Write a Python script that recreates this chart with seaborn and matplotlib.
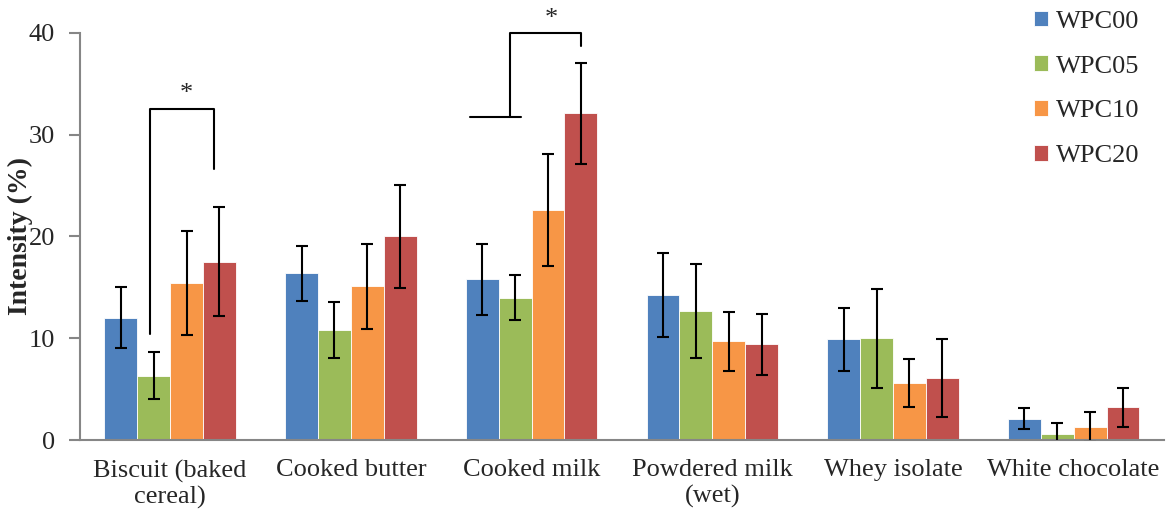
#!/usr/bin/env python3

import pandas as pd
import matplotlib.pyplot as plt
import seaborn as sns


categories = ["Biscuit (baked\ncereal)", "Cooked butter", "Cooked milk",
              "Powdered milk\n(wet)", "Whey isolate", "White chocolate"]
samples = ["WPC00", "WPC05", "WPC10", "WPC20"]
colors = ["#4F81BD", "#9BBB59", "#F79646", "#C0504D"]

wpc00 = [12.0, 16.4, 15.8, 14.25, 9.9, 2.1]
wpc05 = [6.3, 10.8, 14.0, 12.7, 10.0, 0.6]
wpc10 = [15.4, 15.1, 22.6, 9.7, 5.6, 1.3]
wpc20 = [17.5, 20.0, 32.1, 9.4, 6.1, 3.2]

wpc00_err = [3.0, 2.7, 3.5, 4.15, 3.1, 1.05]
wpc05_err = [2.3, 2.75, 2.25, 4.6, 4.85, 1.1]
wpc10_err = [5.1, 4.2, 5.5, 2.9, 2.35, 1.45]
wpc20_err = [5.35, 5.05, 4.95, 3.0, 3.8, 1.9]

values = [wpc00, wpc05, wpc10, wpc20]
errors = [wpc00_err, wpc05_err, wpc10_err, wpc20_err]

rows = []
for sample, vals in zip(samples, values):
    for cat, v in zip(categories, vals):
        rows.append({"Attribute": cat, "Sample": sample, "Intensity": v})
data = pd.DataFrame(rows)

sns.set_style("white")
plt.rcParams["font.family"] = ["Liberation Serif", "DejaVu Serif"]

fig, ax = plt.subplots(figsize=(11.74, 5.15), dpi=100)
fig.subplots_adjust(left=0.068, right=0.9915, bottom=0.1456, top=0.936)

sns.barplot(data=data, x="Attribute", y="Intensity", hue="Sample", palette=colors,
            width=0.727, saturation=1, errorbar=None, edgecolor="white", linewidth=0.6, ax=ax)

for container, err in zip(ax.containers, errors):
    xs = [b.get_x() + b.get_width() / 2 for b in container]
    ys = [b.get_height() for b in container]
    ax.errorbar(xs, ys, yerr=err, fmt="none", ecolor="black", elinewidth=1.5,
                capsize=4.5, capthick=1.5, zorder=5)

# significance brackets
br = dict(color="black", lw=1.5, clip_on=False, zorder=6)
ax.plot([-0.109, -0.109, 0.2416, 0.2416], [10.4, 32.5, 32.5, 26.6], **br)
ax.text(0.087, 32.9, "*", ha="center", va="bottom", fontsize=19)
ax.plot([1.657, 1.944], [31.7, 31.7], **br)
ax.plot([1.880, 1.880, 2.273, 2.273], [31.7, 40.0, 40.0, 38.7], **br)
ax.text(2.107, 40.3, "*", ha="center", va="bottom", fontsize=19)

ax.set_xlim(-0.5, len(categories) - 0.5)
ax.set_ylim(0, 40)
ax.set_yticks([0, 10, 20, 30, 40])
ax.set_xlabel("")
ax.set_ylabel("Intensity (%)", fontsize=20, fontweight="bold", labelpad=-3)

for side in ["top", "right"]:
    ax.spines[side].set_visible(False)
for side in ["left", "bottom"]:
    ax.spines[side].set_color("#868686")
    ax.spines[side].set_linewidth(1.5)

ax.set_xticks([i - 0.5 for i in range(len(categories) + 1)], minor=True)
ax.tick_params(axis="x", which="major", length=0, pad=14, labelsize=19)
ax.tick_params(axis="x", which="minor", length=7, width=1.5, color="#868686", direction="out")
ax.tick_params(axis="y", length=8, width=1.5, color="#868686", direction="out",
               labelsize=19, pad=10, left=True)

ax.legend(loc="upper left", bbox_to_anchor=(1023 / 1174, 1.0), bbox_transform=fig.transFigure,
          frameon=False, fontsize=19, handlelength=0.55, handleheight=0.55,
          handletextpad=0.3, labelspacing=0.85, borderaxespad=0.0)

plt.savefig("out.png", dpi=100)
plt.close()
